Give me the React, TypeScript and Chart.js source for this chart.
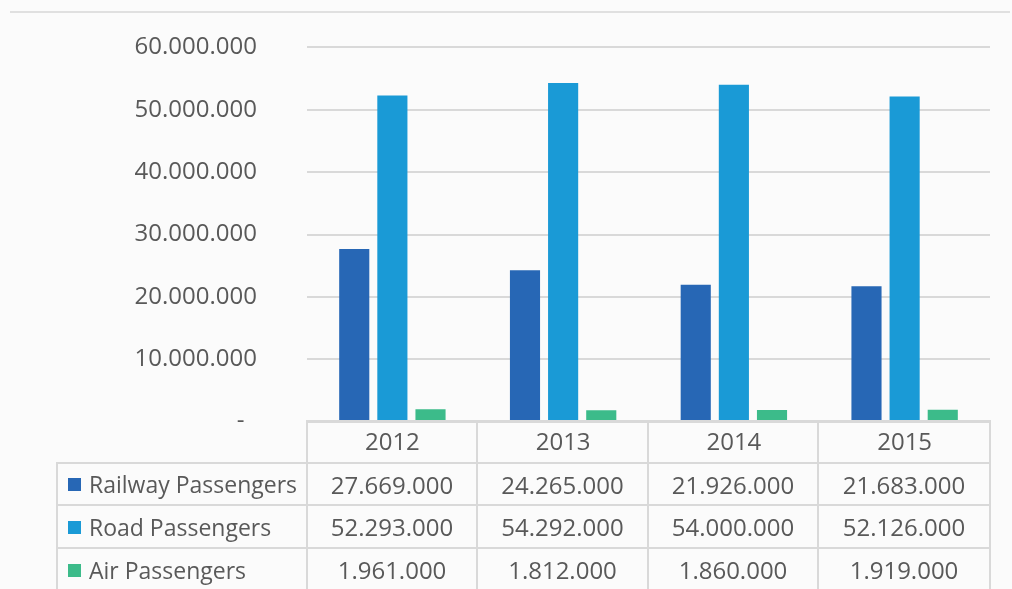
import { useEffect, useRef } from "react";
import Chart from "chart.js/auto";

// -------------------- Datos --------------------
const years = ["2012", "2013", "2014", "2015"];
const railway = [27669000, 24265000, 21926000, 21683000];
const road = [52293000, 54292000, 54000000, 52126000];
const air = [1961000, 1812000, 1860000, 1919000];
const seriesNames = ["Railway Passengers", "Road Passengers", "Air Passengers"];
const seriesColors = ["#2767b5", "#1a9ad6", "#3cbb8a"];

const FONT = "'Open Sans', 'Noto Sans', sans-serif";
const TXT = "#595959";
const LINE = "#d9d9d9";

// formato con punto de miles; el cero se muestra como "-" (estilo contable)
function fmt(n: number) {
  if (n === 0) return "-";
  return n.toString().replace(/\B(?=(\d{3})+(?!\d))/g, ".");
}

export default function App() {
  const canvasRef = useRef<HTMLCanvasElement | null>(null);
  const chartRef = useRef<Chart | null>(null);

  useEffect(() => {
    if (!canvasRef.current) return;
    chartRef.current?.destroy();
    chartRef.current = new Chart(canvasRef.current, {
      type: "bar",
      data: {
        labels: years,
        datasets: [railway, road, air].map((d, i) => ({
          label: seriesNames[i],
          data: d,
          backgroundColor: seriesColors[i],
          barPercentage: 0.79,
          categoryPercentage: 0.67,
        })),
      },
      options: {
        animation: false,
        responsive: true,
        maintainAspectRatio: false,
        layout: { padding: { top: 30, right: 22, left: 0, bottom: 0 } },
        plugins: { legend: { display: false }, tooltip: { enabled: false } },
        scales: {
          x: {
            grid: { display: false, drawTicks: false },
            border: { display: false },
            ticks: { color: TXT, font: { family: FONT, size: 24 }, padding: 7 },
            afterFit: (s: any) => { s.height = 49; },
          },
          y: {
            min: 0,
            max: 60000000,
            grid: { color: LINE, lineWidth: 2, drawTicks: false },
            border: { display: false },
            ticks: {
              stepSize: 10000000,
              color: TXT,
              padding: 50,
              font: { family: FONT, size: 24 },
              callback: (v: any) => (Number(v) === 0 ? "-\u00a0\u00a0" : fmt(Number(v))),
            },
            afterFit: (s: any) => { s.width = 307; },
          },
        },
      },
    });
    return () => {
      chartRef.current?.destroy();
      chartRef.current = null;
    };
  }, []);

  const cell: React.CSSProperties = {
    border: `2px solid ${LINE}`,
    textAlign: "center",
    padding: 0,
    color: TXT,
    fontFamily: FONT,
    fontSize: 24,
  };
  const cols = [250, 170, 171, 170, 172];
  const rows = [railway, road, air];

  return (
    <div style={{ position: "fixed", left: 0, top: 0, width: 1012, height: 589, background: "#fbfbfb", overflow: "hidden" }}>
      <div style={{ position: "absolute", left: 0, top: -17, width: 1012, height: 503 }}>
        <canvas ref={canvasRef} />
      </div>
      <div style={{ position: "absolute", left: 10, top: 11, width: 1000, height: 2, background: "#e0e0e0" }} />
      <table style={{ position: "absolute", left: 56, top: 420, borderCollapse: "collapse", tableLayout: "fixed" }}>
        <colgroup>{cols.map((w, i) => <col key={i} style={{ width: w }} />)}</colgroup>
        <tbody>
          <tr style={{ height: 42 }}>
            <td style={{ ...cell, borderTop: "none", borderLeft: "none" }} />
            {years.map(y => <td key={y} style={cell} />)}
          </tr>
          {rows.map((r, i) => (
            <tr key={i} style={{ height: i === 0 ? 42 : 43 }}>
              <td style={{ ...cell, textAlign: "left", paddingLeft: 10, whiteSpace: "nowrap", fontSize: 23 }}>
                <span style={{ display: "inline-block", width: 13, height: 13, background: seriesColors[i], marginRight: 8, verticalAlign: "middle", position: "relative", top: -2 }} />
                {seriesNames[i]}
              </td>
              {r.map((v, j) => <td key={j} style={cell}>{fmt(v)}</td>)}
            </tr>
          ))}
        </tbody>
      </table>
    </div>
  );
}
